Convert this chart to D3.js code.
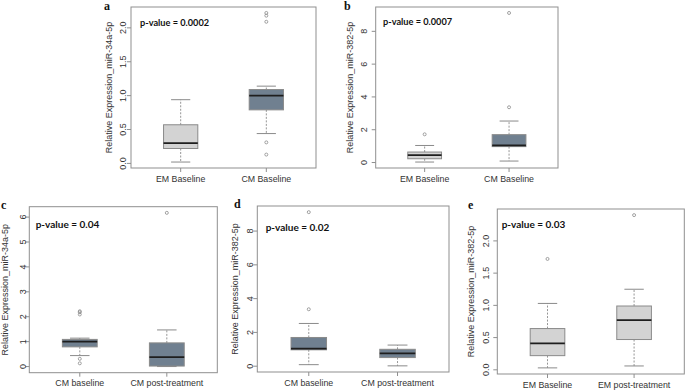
<!DOCTYPE html>
<html><head><meta charset="utf-8">
<script src="https://cdn.jsdelivr.net/npm/d3@7"></script>
<style>body{margin:0;background:#fff}</style>
</head><body>
<svg id="chart" width="685" height="390"></svg>
<script>
// ---------- data ----------
const panelLetters = ["a", "b", "c", "d", "e"];
const pValueLabels = ["p-value = 0.0002", "p-value = 0.0007", "p-value = 0.04", "p-value = 0.02", "p-value = 0.03"];
const yTitles = [
  "Relative Expression_miR-34a-5p",
  "Relative Expression_miR-382-5p",
  "Relative Expression_miR-34a-5p",
  "Relative Expression_miR-382-5p",
  "Relative Expression_miR-382-5p"
];
const categoriesA = ["EM Baseline", "CM Baseline"];
const categoriesB = ["EM Baseline", "CM Baseline"];
const categoriesC = ["CM baseline", "CM post-treatment"];
const categoriesD = ["CM baseline", "CM post-treatment"];
const categoriesE = ["EM Baseline", "EM post-treatment"];
// [lower whisker, Q1, median, Q3, upper whisker]
const boxStatsA = [[0.02, 0.22, 0.30, 0.57, 0.94], [0.44, 0.79, 1.00, 1.09, 1.14]];
const boxStatsB = [[0.03, 0.23, 0.45, 0.64, 1.04], [0.09, 0.97, 1.04, 1.70, 2.53]];
const boxStatsC = [[0.44, 0.79, 1.00, 1.09, 1.14], [0.00, 0.02, 0.38, 0.95, 1.47]];
const boxStatsD = [[0.09, 0.97, 1.04, 1.70, 2.53], [0.02, 0.51, 0.76, 1.00, 1.25]];
const boxStatsE = [[0.03, 0.22, 0.41, 0.64, 1.03], [0.06, 0.47, 0.77, 0.99, 1.25]];
const outliersA = [[], [0.13, 0.31, 2.09, 2.18, 2.22]];
const outliersB = [[1.72], [3.37, 9.12]];
const outliersC = [[0.13, 0.31, 2.09, 2.18, 2.22], [6.17]];
const outliersD = [[3.37, 9.12], []];
const outliersE = [[1.72], [2.40]];
const ticksA = [0, 0.5, 1, 1.5, 2], tickLabelsA = ["0.0", "0.5", "1.0", "1.5", "2.0"];
const ticksB = [0, 2, 4, 6, 8], tickLabelsB = ["0", "2", "4", "6", "8"];
const ticksC = [0, 1, 2, 3, 4, 5, 6], tickLabelsC = ["0", "1", "2", "3", "4", "5", "6"];
const ticksD = [0, 2, 4, 6, 8], tickLabelsD = ["0", "2", "4", "6", "8"];
const ticksE = [0, 0.5, 1, 1.5, 2], tickLabelsE = ["0.0", "0.5", "1.0", "1.5", "2.0"];

// ---------- styles / layout ----------
const LIGHT = "#d3d3d3", SLATE = "#708090";
const fills = [[LIGHT, SLATE], [LIGHT, SLATE], [SLATE, SLATE], [SLATE, SLATE], [LIGHT, LIGHT]];
const layout = [
  {x0: 131, y0: 7, x1: 316, y1: 168, titleX: 109, tickX: 123, pX: 140, pY: 22, pSize: 9.2, lx: 104, ly: 10},
  {x0: 375.7, y0: 7, x1: 558, y1: 168, titleX: 350, tickX: 364, pX: 383, pY: 21, pSize: 9.2, lx: 344, ly: 10},
  {x0: 29.3, y0: 206.7, x1: 217.3, y1: 372.7, titleX: 5, tickX: 23, pX: 35.7, pY: 224, pSize: 10, lx: 1, ly: 208.5},
  {x0: 257.3, y0: 206, x1: 449, y1: 372, titleX: 235, tickX: 250, pX: 265.7, pY: 227.3, pSize: 10, lx: 234, ly: 208},
  {x0: 497.3, y0: 209, x1: 684.3, y1: 374, titleX: 471, tickX: 486, pX: 501.7, pY: 224, pSize: 10, lx: 468, ly: 209}
];
const panels = [
  {cats: categoriesA, stats: boxStatsA, outs: outliersA, ticks: ticksA, labels: tickLabelsA},
  {cats: categoriesB, stats: boxStatsB, outs: outliersB, ticks: ticksB, labels: tickLabelsB},
  {cats: categoriesC, stats: boxStatsC, outs: outliersC, ticks: ticksC, labels: tickLabelsC},
  {cats: categoriesD, stats: boxStatsD, outs: outliersD, ticks: ticksD, labels: tickLabelsD},
  {cats: categoriesE, stats: boxStatsE, outs: outliersE, ticks: ticksE, labels: tickLabelsE}
];

const svg = d3.select("#chart");
const FRAME = "#8f8f8f", TXT = "#333";
const SANS = "'Liberation Sans', Arial, sans-serif";

panels.forEach((p, i) => {
  const L = layout[i];
  const g = svg.append("g");
  const all = p.stats.flat().concat(p.outs.flat());
  const mn = d3.min(all), mx = d3.max(all), r = mx - mn;
  const y = d3.scaleLinear().domain([mn - 0.04 * r, mx + 0.04 * r]).range([L.y1, L.y0]);
  const x = d3.scaleLinear().domain([0.42, 2.58]).range([L.x0, L.x1]);
  const bw = (x(1.4) - x(1.0));   // 0.8 units wide box

  // frame
  g.append("rect").attr("x", L.x0).attr("y", L.y0).attr("width", L.x1 - L.x0).attr("height", L.y1 - L.y0)
    .attr("fill", "none").attr("stroke", FRAME).attr("stroke-width", 1);

  // y ticks
  p.ticks.forEach((t, k) => {
    g.append("line").attr("x1", L.x0 - 4).attr("x2", L.x0).attr("y1", y(t)).attr("y2", y(t))
      .attr("stroke", FRAME).attr("stroke-width", 1);
    g.append("text").attr("transform", `translate(${L.tickX},${y(t)}) rotate(-90)`)
      .attr("text-anchor", "middle").attr("dominant-baseline", "central")
      .attr("font-family", SANS).attr("font-size", 9).attr("fill", TXT).text(p.labels[k]);
  });

  // y title
  g.append("text").attr("transform", `translate(${L.titleX},${(L.y0 + L.y1) / 2}) rotate(-90)`)
    .attr("text-anchor", "middle").attr("dominant-baseline", "central")
    .attr("font-family", SANS).attr("font-size", 9).attr("fill", TXT).text(yTitles[i]);

  // boxes
  p.stats.forEach((s, j) => {
    const cx = x(j + 1);
    const [lo, q1, med, q3, hi] = s;
    // whiskers
    [[q3, hi], [q1, lo]].forEach(([a, b]) => {
      g.append("line").attr("x1", cx).attr("x2", cx).attr("y1", y(a)).attr("y2", y(b))
        .attr("stroke", "#8a8a8a").attr("stroke-width", 0.9).attr("stroke-dasharray", "2,1.5");
      g.append("line").attr("x1", cx - bw * 0.28).attr("x2", cx + bw * 0.28).attr("y1", y(b)).attr("y2", y(b))
        .attr("stroke", "#8a8a8a").attr("stroke-width", 1);
    });
    g.append("rect").attr("x", cx - bw / 2).attr("width", bw).attr("y", y(q3)).attr("height", y(q1) - y(q3))
      .attr("fill", fills[i][j]).attr("stroke", "#8a8a8a").attr("stroke-width", 1);
    g.append("line").attr("x1", cx - bw / 2).attr("x2", cx + bw / 2).attr("y1", y(med)).attr("y2", y(med))
      .attr("stroke", "#1e1e1e").attr("stroke-width", 1.8);
    p.outs[j].forEach(o => {
      g.append("circle").attr("cx", cx).attr("cy", y(o)).attr("r", 1.5)
        .attr("fill", "none").attr("stroke", "#8a8a8a").attr("stroke-width", 0.8);
    });
    // x tick + label
    g.append("line").attr("x1", cx).attr("x2", cx).attr("y1", L.y1).attr("y2", L.y1 + 4)
      .attr("stroke", FRAME).attr("stroke-width", 1);
    g.append("text").attr("x", cx).attr("y", L.y1 + 10.5).attr("text-anchor", "middle")
      .attr("dominant-baseline", "central").attr("font-family", SANS).attr("font-size", 8.8)
      .attr("fill", TXT).text(p.cats[j]);
  });

  // p-value
  g.append("text").attr("x", L.pX).attr("y", L.pY).attr("dominant-baseline", "central")
    .attr("font-family", "Lato, 'Open Sans', sans-serif").attr("font-weight", "bold")
    .attr("font-size", L.pSize).attr("fill", "#111").text(pValueLabels[i]);

  // panel letter
  g.append("text").attr("x", L.lx).attr("y", L.ly)
    .attr("font-family", "'Liberation Serif', 'DejaVu Serif', serif").attr("font-weight", "bold")
    .attr("font-size", 12).attr("fill", "#111").text(panelLetters[i]);
});
</script>
</body></html>
